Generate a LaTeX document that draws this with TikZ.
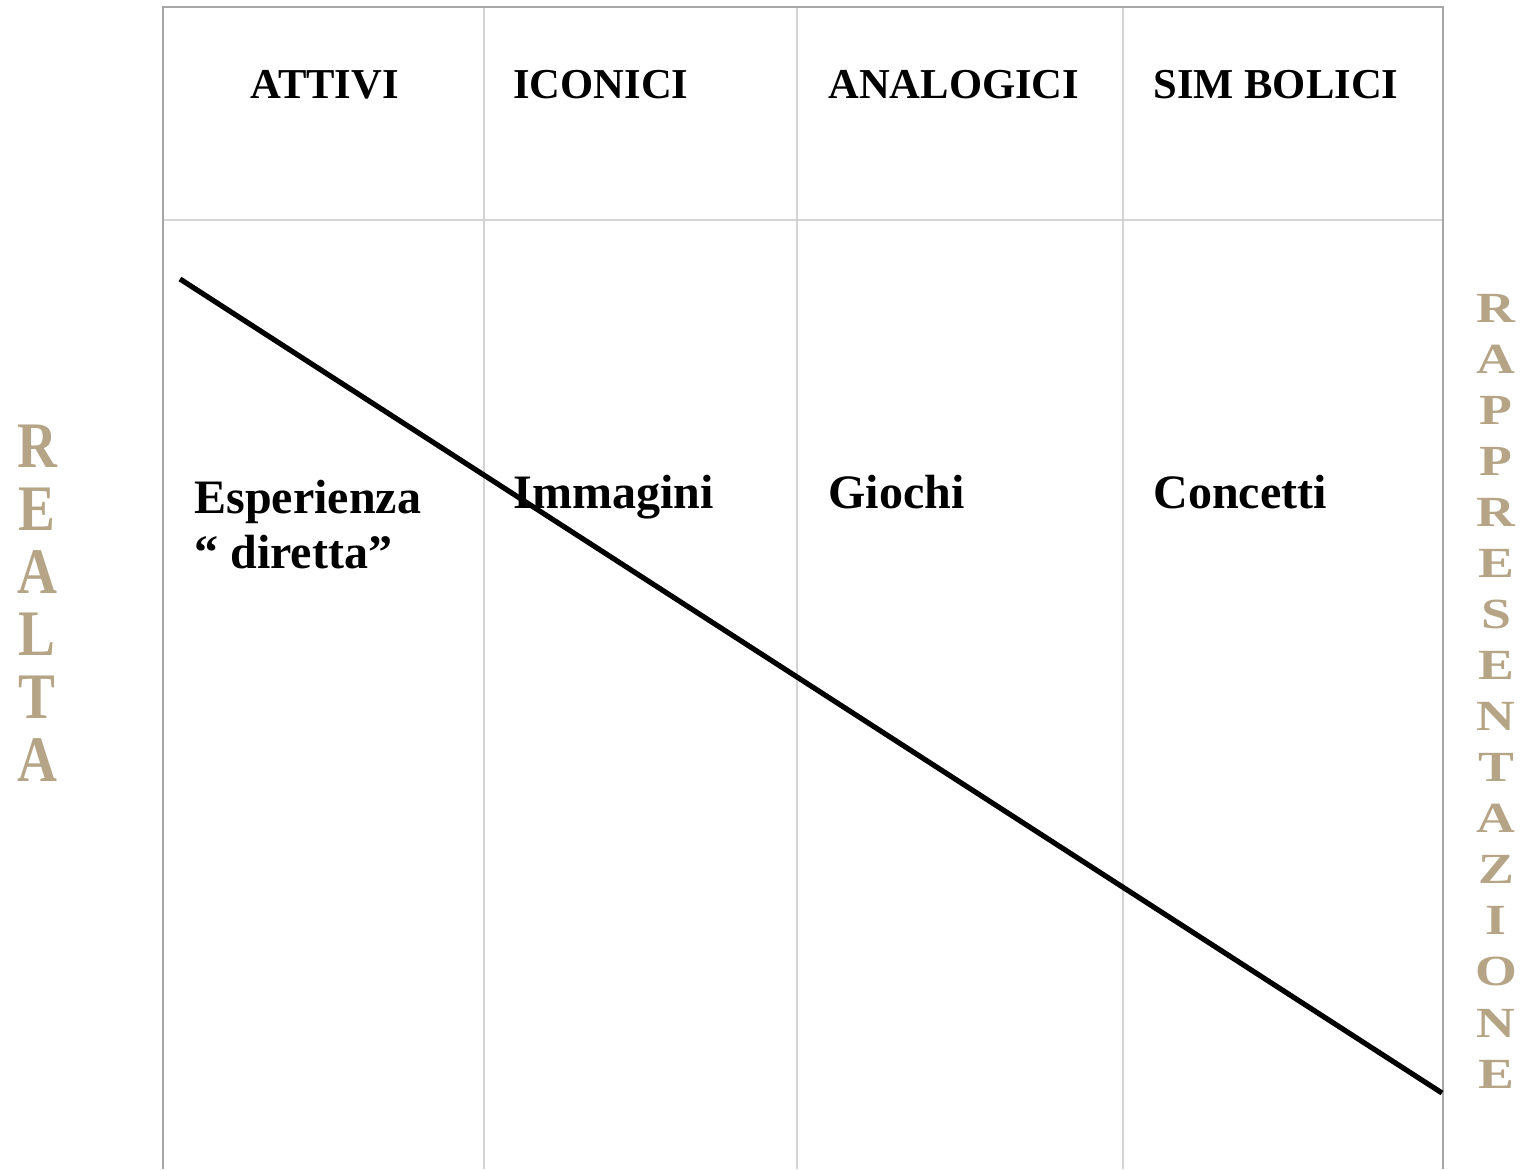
\documentclass[tikz,border=0pt]{standalone}
\usepackage{fontspec}
\setmainfont{Liberation Serif}
\usepackage{xcolor}
\usetikzlibrary{positioning}
\definecolor{tabframe}{HTML}{A6A6A6}
\definecolor{tabgrid}{HTML}{D4D4D4}
\definecolor{sidetan}{HTML}{B5A586}

\begin{document}
\begin{tikzpicture}[
      x=0.5pt, y=-0.5pt,
      frame/.style={draw=tabframe, line width=1.4pt},
      grid/.style={draw=tabgrid, line width=0.6pt},
      head/.style={anchor=base west, inner sep=0pt, font=\fontsize{21.3}{26}\selectfont\bfseries},
      cell/.style={anchor=base west, inner sep=0pt, align=left,
                   font=\fontsize{24}{27.5}\selectfont\bfseries},
      sideleft/.style={inner sep=0pt, text=sidetan, font=\fontsize{32.5}{34}\selectfont\bfseries},
      sideright/.style={inner sep=0pt, text=sidetan, font=\fontsize{21.5}{24}\selectfont\bfseries},
      diag/.style={line width=2.6pt, black}]
    \useasboundingbox (0,0) rectangle (1524,1169);
    % table
    \foreach \x in {484,797,1123}
      \draw[grid] (\x,7) -- (\x,1169);
    \draw[grid] (163,220) -- (1443,220);
    \draw[frame] (163,1169) -- (163,7) -- (1443,7) -- (1443,1169);
    % headers
    \node[head] (attivi)    at (250,98)  {ATTIVI};
    \node[head] (iconici)   at (513,98)  {ICONICI};
    \node[head] (analogici) at (828,98)  {ANALOGICI};
    \node[head] (simbolici) at (1153,98) {SIM BOLICI};
    % contents
    \node[cell] (esperienza) at (194,568)  {Esperienza\\“ diretta”};
    \node[cell] (immagini)   at (513,508)  {Immagini};
    \node[cell] (giochi)     at (828,508)  {Giochi};
    \node[cell] (concetti)   at (1153,508) {Concetti};
    % diagonal
    \coordinate (dstart) at (180,279);
    \coordinate (dend)   at (1442,1093);
    \draw[diag] (dstart) -- (dend);
    % side words
    \foreach \l [count=\i] in {R,E,A,L,T,A}
      \node[sideleft] (realta-\i) at (37,{446+62.8*(\i-1)}) {\scalebox{0.85}[1]{\l}};
    \foreach \l [count=\i] in {R,A,P,P,R,E,S,E,N,T,A,Z,I,O,N,E}
      \node[sideright] (rappr-\i) at (1496,{308+51.07*(\i-1)}) {\scalebox{1.25}[1]{\l}};
  \end{tikzpicture}
\end{document}
